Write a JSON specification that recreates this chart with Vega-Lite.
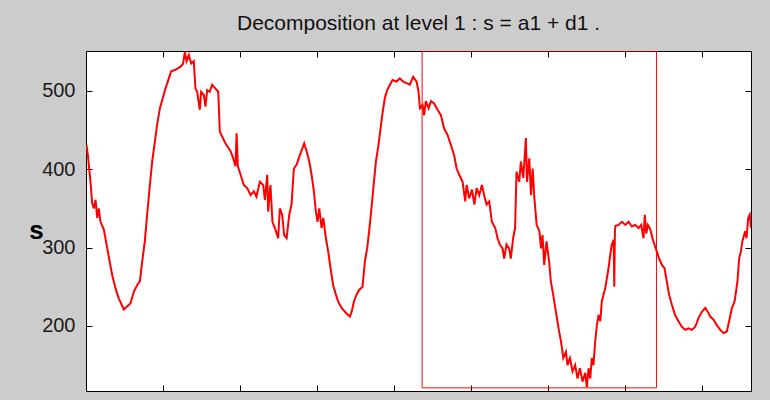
{
  "$schema": "https://vega.github.io/schema/vega-lite/v6.json",
  "width": 665,
  "height": 340,
  "autosize": {"type": "none"},
  "padding": {"left": 86, "top": 51, "right": 19, "bottom": 9},
  "background": "#cccccc",
  "config": {
    "view": {"fill": "white", "stroke": "#000000", "strokeWidth": 1},
    "font": "Liberation Sans"
  },
  "title": {
    "text": "Decomposition at level 1 : s = a1 + d1 .",
    "fontSize": 21,
    "fontWeight": "normal",
    "color": "#111111",
    "anchor": "middle",
    "frame": "group",
    "baseline": "alphabetic",
    "offset": 0
  },
  "datasets": {
    "sig": [
      {"i": 1, "s": 425}, {"i": 4, "s": 431}, {"i": 13, "s": 418}, {"i": 19, "s": 406}, {"i": 30, "s": 384},
      {"i": 41, "s": 357}, {"i": 52, "s": 350}, {"i": 63, "s": 361}, {"i": 74, "s": 338}, {"i": 84, "s": 350},
      {"i": 95, "s": 333}, {"i": 117, "s": 323}, {"i": 139, "s": 299}, {"i": 171, "s": 265}, {"i": 193, "s": 248},
      {"i": 214, "s": 235}, {"i": 247, "s": 221}, {"i": 268, "s": 225}, {"i": 290, "s": 229}, {"i": 312, "s": 244},
      {"i": 333, "s": 252}, {"i": 351, "s": 257}, {"i": 366, "s": 282}, {"i": 383, "s": 308}, {"i": 398, "s": 342},
      {"i": 414, "s": 376}, {"i": 431, "s": 410}, {"i": 448, "s": 435}, {"i": 463, "s": 457}, {"i": 481, "s": 478},
      {"i": 500, "s": 491}, {"i": 517, "s": 503}, {"i": 539, "s": 516}, {"i": 554, "s": 525}, {"i": 582, "s": 527},
      {"i": 615, "s": 531}, {"i": 632, "s": 535}, {"i": 643, "s": 550}, {"i": 654, "s": 538}, {"i": 669, "s": 546},
      {"i": 684, "s": 535}, {"i": 701, "s": 538}, {"i": 712, "s": 503}, {"i": 723, "s": 499}, {"i": 740, "s": 476},
      {"i": 749, "s": 499}, {"i": 766, "s": 495}, {"i": 777, "s": 480}, {"i": 788, "s": 501}, {"i": 805, "s": 499},
      {"i": 820, "s": 508}, {"i": 842, "s": 503}, {"i": 860, "s": 499}, {"i": 870, "s": 448}, {"i": 885, "s": 442},
      {"i": 907, "s": 433}, {"i": 940, "s": 423}, {"i": 957, "s": 414}, {"i": 972, "s": 404}, {"i": 979, "s": 446},
      {"i": 987, "s": 404}, {"i": 1005, "s": 393}, {"i": 1026, "s": 380}, {"i": 1048, "s": 376}, {"i": 1070, "s": 367},
      {"i": 1091, "s": 372}, {"i": 1108, "s": 365}, {"i": 1130, "s": 384}, {"i": 1152, "s": 380}, {"i": 1163, "s": 361},
      {"i": 1178, "s": 393}, {"i": 1184, "s": 346}, {"i": 1199, "s": 380}, {"i": 1212, "s": 333}, {"i": 1228, "s": 325},
      {"i": 1249, "s": 312}, {"i": 1260, "s": 350}, {"i": 1275, "s": 342}, {"i": 1288, "s": 316}, {"i": 1304, "s": 312},
      {"i": 1321, "s": 342}, {"i": 1336, "s": 355}, {"i": 1351, "s": 401}, {"i": 1369, "s": 406}, {"i": 1390, "s": 418},
      {"i": 1407, "s": 427}, {"i": 1418, "s": 433}, {"i": 1434, "s": 423}, {"i": 1451, "s": 410}, {"i": 1466, "s": 393},
      {"i": 1481, "s": 372}, {"i": 1494, "s": 346}, {"i": 1505, "s": 333}, {"i": 1516, "s": 350}, {"i": 1531, "s": 325},
      {"i": 1542, "s": 338}, {"i": 1559, "s": 312}, {"i": 1574, "s": 295}, {"i": 1589, "s": 274}, {"i": 1606, "s": 252},
      {"i": 1624, "s": 240}, {"i": 1639, "s": 231}, {"i": 1661, "s": 223}, {"i": 1693, "s": 216}, {"i": 1715, "s": 212},
      {"i": 1726, "s": 218}, {"i": 1741, "s": 231}, {"i": 1758, "s": 240}, {"i": 1775, "s": 246}, {"i": 1797, "s": 250},
      {"i": 1812, "s": 282}, {"i": 1827, "s": 299}, {"i": 1840, "s": 321}, {"i": 1855, "s": 350}, {"i": 1871, "s": 384},
      {"i": 1884, "s": 410}, {"i": 1899, "s": 429}, {"i": 1914, "s": 452}, {"i": 1927, "s": 472}, {"i": 1942, "s": 491},
      {"i": 1957, "s": 501}, {"i": 1975, "s": 508}, {"i": 1992, "s": 514}, {"i": 2018, "s": 512}, {"i": 2039, "s": 516},
      {"i": 2061, "s": 512}, {"i": 2083, "s": 510}, {"i": 2104, "s": 508}, {"i": 2126, "s": 518}, {"i": 2148, "s": 512},
      {"i": 2160, "s": 500}, {"i": 2170, "s": 478}, {"i": 2187, "s": 482}, {"i": 2197, "s": 469}, {"i": 2208, "s": 487},
      {"i": 2226, "s": 478}, {"i": 2241, "s": 487}, {"i": 2262, "s": 484}, {"i": 2284, "s": 476}, {"i": 2306, "s": 469},
      {"i": 2327, "s": 452}, {"i": 2349, "s": 444}, {"i": 2371, "s": 431}, {"i": 2392, "s": 418}, {"i": 2408, "s": 401},
      {"i": 2425, "s": 393}, {"i": 2447, "s": 384}, {"i": 2464, "s": 359}, {"i": 2473, "s": 380}, {"i": 2490, "s": 363},
      {"i": 2508, "s": 374}, {"i": 2523, "s": 355}, {"i": 2538, "s": 376}, {"i": 2555, "s": 367}, {"i": 2572, "s": 380},
      {"i": 2587, "s": 367}, {"i": 2603, "s": 355}, {"i": 2620, "s": 359}, {"i": 2637, "s": 333}, {"i": 2659, "s": 325},
      {"i": 2674, "s": 312}, {"i": 2689, "s": 304}, {"i": 2706, "s": 299}, {"i": 2717, "s": 286}, {"i": 2732, "s": 304},
      {"i": 2749, "s": 299}, {"i": 2760, "s": 286}, {"i": 2775, "s": 312}, {"i": 2788, "s": 325}, {"i": 2797, "s": 397},
      {"i": 2815, "s": 384}, {"i": 2825, "s": 410}, {"i": 2841, "s": 389}, {"i": 2858, "s": 440}, {"i": 2865, "s": 384},
      {"i": 2880, "s": 414}, {"i": 2891, "s": 367}, {"i": 2902, "s": 401}, {"i": 2913, "s": 363}, {"i": 2928, "s": 329},
      {"i": 2946, "s": 321}, {"i": 2956, "s": 299}, {"i": 2966, "s": 316}, {"i": 2977, "s": 278}, {"i": 2992, "s": 308},
      {"i": 3009, "s": 282}, {"i": 3020, "s": 257}, {"i": 3035, "s": 240}, {"i": 3053, "s": 218}, {"i": 3070, "s": 197},
      {"i": 3086, "s": 180}, {"i": 3101, "s": 159}, {"i": 3118, "s": 167}, {"i": 3128, "s": 150}, {"i": 3144, "s": 159},
      {"i": 3161, "s": 142}, {"i": 3178, "s": 150}, {"i": 3193, "s": 133}, {"i": 3209, "s": 146}, {"i": 3226, "s": 129},
      {"i": 3243, "s": 140}, {"i": 3254, "s": 122}, {"i": 3265, "s": 146}, {"i": 3276, "s": 133}, {"i": 3286, "s": 159},
      {"i": 3297, "s": 150}, {"i": 3308, "s": 180}, {"i": 3319, "s": 201}, {"i": 3330, "s": 214}, {"i": 3341, "s": 206},
      {"i": 3351, "s": 231}, {"i": 3362, "s": 240}, {"i": 3373, "s": 248}, {"i": 3384, "s": 261}, {"i": 3395, "s": 274},
      {"i": 3405, "s": 290}, {"i": 3416, "s": 304}, {"i": 3428, "s": 310}, {"i": 3432, "s": 250}, {"i": 3436, "s": 320},
      {"i": 3440, "s": 328}, {"i": 3460, "s": 329}, {"i": 3482, "s": 333}, {"i": 3504, "s": 329}, {"i": 3525, "s": 333},
      {"i": 3546, "s": 327}, {"i": 3568, "s": 329}, {"i": 3590, "s": 325}, {"i": 3607, "s": 329}, {"i": 3622, "s": 312},
      {"i": 3630, "s": 342}, {"i": 3640, "s": 318}, {"i": 3650, "s": 329}, {"i": 3665, "s": 324}, {"i": 3680, "s": 312},
      {"i": 3693, "s": 304}, {"i": 3708, "s": 295}, {"i": 3724, "s": 286}, {"i": 3741, "s": 278}, {"i": 3758, "s": 274},
      {"i": 3773, "s": 257}, {"i": 3788, "s": 240}, {"i": 3806, "s": 227}, {"i": 3827, "s": 214}, {"i": 3849, "s": 206},
      {"i": 3871, "s": 199}, {"i": 3893, "s": 195}, {"i": 3914, "s": 197}, {"i": 3936, "s": 195}, {"i": 3958, "s": 199},
      {"i": 3979, "s": 210}, {"i": 4001, "s": 218}, {"i": 4023, "s": 223}, {"i": 4040, "s": 218}, {"i": 4055, "s": 212},
      {"i": 4077, "s": 208}, {"i": 4098, "s": 201}, {"i": 4120, "s": 195}, {"i": 4142, "s": 191}, {"i": 4163, "s": 193},
      {"i": 4178, "s": 206}, {"i": 4196, "s": 223}, {"i": 4213, "s": 231}, {"i": 4232, "s": 257}, {"i": 4243, "s": 286},
      {"i": 4254, "s": 295}, {"i": 4264, "s": 308}, {"i": 4282, "s": 321}, {"i": 4291, "s": 312}, {"i": 4302, "s": 338},
      {"i": 4312, "s": 342}, {"i": 4320, "s": 325}
    ],
    "box": [{"x1": 2184, "x2": 3706, "y1": 121, "y2": 551}]
  },
  "layer": [
    {
      "data": {"name": "sig"},
      "mark": {"type": "line", "color": "#ff0000", "strokeWidth": 2, "clip": true},
      "encoding": {
        "x": {
          "field": "i", "type": "quantitative",
          "scale": {"domain": [1, 4320], "nice": false, "zero": false},
          "axis": {
            "orient": "bottom", "title": null, "labels": false, "grid": false, "domain": false,
            "values": [500, 1000, 1500, 2000, 2500, 3000, 3500, 4000],
            "tickSize": -6, "tickColor": "#000000", "tickWidth": 1
          }
        },
        "y": {
          "field": "s", "type": "quantitative",
          "scale": {"domain": [117, 551], "nice": false, "zero": false},
          "axis": {
            "orient": "left", "grid": false, "domain": false,
            "values": [200, 300, 400, 500],
            "tickSize": -6, "tickColor": "#000000", "tickWidth": 1,
            "labelPadding": 17, "labelFontSize": 20, "labelColor": "#1a1a1a", "labelFont": "Liberation Sans",
            "title": "s", "titleAngle": 0, "titleFontSize": 26, "titleFontWeight": "bold", "titleColor": "#000000",
            "titleX": -50, "titleY": 187, "titleAlign": "center", "titleBaseline": "alphabetic"
          }
        }
      }
    },
    {
      "data": {"name": "box"},
      "mark": {"type": "rect", "fillOpacity": 0, "stroke": "#ff0000", "strokeWidth": 1, "clip": true},
      "encoding": {
        "x": {
          "field": "x1", "type": "quantitative",
          "axis": {
            "orient": "top", "title": null, "labels": false, "grid": false, "domain": false,
            "values": [500, 1000, 1500, 2000, 2500, 3000, 3500, 4000],
            "tickSize": -6, "tickColor": "#000000", "tickWidth": 1
          }
        },
        "x2": {"field": "x2"},
        "y": {
          "field": "y1", "type": "quantitative",
          "axis": {
            "orient": "right", "title": null, "labels": false, "grid": false, "domain": false,
            "values": [200, 300, 400, 500],
            "tickSize": -6, "tickColor": "#000000", "tickWidth": 1
          }
        },
        "y2": {"field": "y2"}
      }
    }
  ],
  "resolve": {"axis": {"x": "independent", "y": "independent"}}
}
